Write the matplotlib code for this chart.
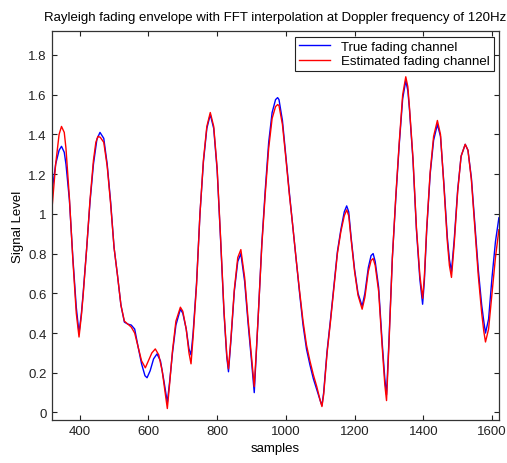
import matplotlib
matplotlib.use("Agg")
from matplotlib import pyplot as plt
from matplotlib.ticker import FormatStrFormatter

# readings from the reference (sample index, envelope value)
true_x = [320, 330, 340, 347, 355, 360, 370, 380, 390, 398, 405, 410, 420, 430, 440, 450, 459,
          470, 480, 490, 500, 510, 520, 530, 540, 550, 560, 570, 580, 590, 596, 605, 615, 625,
          635, 645, 655, 662, 670, 680, 693, 700, 710, 718, 724, 730, 740, 750, 760, 770, 780,
          790, 800, 810, 820, 828, 833, 840, 850, 860, 869, 880, 890, 900, 908, 914, 920, 930,
          940, 950, 960, 970, 976, 980, 990, 1000, 1010, 1020, 1030, 1040, 1050, 1060, 1070,
          1080, 1090, 1100, 1105, 1110, 1120, 1130, 1140, 1150, 1160, 1170, 1177, 1183, 1190,
          1200, 1210, 1222, 1230, 1240, 1248, 1254, 1260, 1270, 1280, 1288, 1293, 1300, 1310,
          1320, 1330, 1340, 1349, 1355, 1360, 1370, 1380, 1390, 1398, 1403, 1410, 1420, 1430,
          1441, 1450, 1460, 1470, 1476, 1482, 1490, 1500, 1510, 1522, 1530, 1540, 1550, 1560,
          1570, 1576, 1581, 1590, 1600, 1610, 1620]
true_y = [1.12, 1.25, 1.32, 1.34, 1.31, 1.25, 1.07, 0.78, 0.53, 0.40, 0.50, 0.60, 0.82, 1.06,
          1.25, 1.375, 1.41, 1.38, 1.25, 1.06, 0.83, 0.69, 0.54, 0.455, 0.445, 0.44, 0.42, 0.33,
          0.245, 0.185, 0.175, 0.21, 0.27, 0.295, 0.26, 0.16, 0.05, 0.16, 0.30, 0.44, 0.52, 0.50,
          0.42, 0.32, 0.29, 0.40, 0.65, 1.00, 1.26, 1.43, 1.50, 1.43, 1.22, 0.87, 0.50, 0.28,
          0.205, 0.36, 0.61, 0.76, 0.80, 0.66, 0.45, 0.26, 0.10, 0.30, 0.50, 0.85, 1.12, 1.36,
          1.51, 1.575, 1.585, 1.575, 1.47, 1.29, 1.11, 0.94, 0.77, 0.60, 0.44, 0.32, 0.24, 0.17,
          0.115, 0.06, 0.035, 0.10, 0.31, 0.47, 0.64, 0.81, 0.92, 1.01, 1.04, 1.01, 0.88, 0.72,
          0.60, 0.535, 0.60, 0.73, 0.79, 0.80, 0.76, 0.63, 0.36, 0.17, 0.09, 0.36, 0.78, 1.08,
          1.35, 1.58, 1.67, 1.62, 1.52, 1.27, 0.92, 0.67, 0.545, 0.66, 0.92, 1.20, 1.37, 1.45,
          1.39, 1.15, 0.88, 0.77, 0.71, 0.87, 1.12, 1.29, 1.35, 1.32, 1.18, 0.95, 0.72, 0.54,
          0.46, 0.40, 0.47, 0.68, 0.86, 0.98]

est_x = [320, 330, 340, 347, 355, 360, 370, 380, 390, 398, 405, 410, 420, 430, 440, 447, 453,
         460, 470, 480, 490, 500, 510, 520, 530, 540, 550, 560, 570, 580, 591, 600, 610, 620,
         630, 640, 648, 655, 662, 670, 680, 693, 700, 710, 718, 724, 730, 740, 750, 760, 770,
         780, 790, 800, 810, 820, 828, 833, 840, 850, 860, 869, 880, 890, 900, 908, 914, 920,
         930, 940, 950, 960, 970, 976, 980, 990, 1000, 1010, 1020, 1030, 1040, 1050, 1060,
         1070, 1080, 1090, 1100, 1105, 1110, 1120, 1130, 1140, 1150, 1160, 1170, 1177, 1183,
         1190, 1200, 1210, 1222, 1230, 1240, 1248, 1254, 1260, 1270, 1280, 1288, 1293, 1300,
         1310, 1320, 1330, 1340, 1349, 1355, 1360, 1370, 1380, 1390, 1398, 1403, 1410, 1420,
         1430, 1441, 1450, 1460, 1470, 1476, 1482, 1490, 1500, 1510, 1522, 1530, 1540, 1550,
         1560, 1570, 1576, 1581, 1590, 1600, 1610, 1620]
est_y = [1.04, 1.25, 1.40, 1.44, 1.41, 1.33, 1.08, 0.77, 0.50, 0.38, 0.49, 0.59, 0.82, 1.07,
         1.27, 1.36, 1.39, 1.385, 1.36, 1.24, 1.05, 0.83, 0.69, 0.54, 0.46, 0.445, 0.43, 0.40,
         0.33, 0.26, 0.225, 0.26, 0.30, 0.32, 0.29, 0.21, 0.11, 0.02, 0.15, 0.31, 0.46, 0.53,
         0.51, 0.42, 0.30, 0.245, 0.38, 0.64, 1.00, 1.27, 1.44, 1.51, 1.44, 1.23, 0.88, 0.51,
         0.29, 0.22, 0.37, 0.62, 0.78, 0.82, 0.68, 0.47, 0.28, 0.13, 0.31, 0.50, 0.84, 1.10,
         1.33, 1.48, 1.54, 1.55, 1.545, 1.45, 1.28, 1.10, 0.94, 0.77, 0.61, 0.46, 0.34, 0.26,
         0.19, 0.13, 0.06, 0.03, 0.09, 0.30, 0.46, 0.63, 0.80, 0.91, 0.99, 1.02, 0.99, 0.87,
         0.71, 0.59, 0.52, 0.58, 0.71, 0.765, 0.775, 0.74, 0.61, 0.34, 0.14, 0.06, 0.34, 0.78,
         1.09, 1.36, 1.60, 1.69, 1.64, 1.53, 1.28, 0.93, 0.69, 0.575, 0.68, 0.93, 1.21, 1.39,
         1.47, 1.40, 1.14, 0.86, 0.74, 0.68, 0.85, 1.11, 1.29, 1.35, 1.32, 1.17, 0.93, 0.69,
         0.50, 0.41, 0.355, 0.42, 0.60, 0.78, 0.92]

xticks = [400, 600, 800, 1000, 1200, 1400, 1600]
yticks = [0, 0.2, 0.4, 0.6, 0.8, 1.0, 1.2, 1.4, 1.6, 1.8]

plt.rcParams['font.family'] = ['Liberation Sans', 'DejaVu Sans']
plt.rcParams['font.size'] = 9.5

fig = plt.figure(figsize=(5.07, 4.64), dpi=100)
ax = fig.add_axes([0.103, 0.093, 0.881, 0.837])

ax.plot(true_x, true_y, color='#0000ff', lw=1.0, label='True fading channel',
        solid_joinstyle='round')
ax.plot(est_x, est_y, color='#ff0000', lw=1.0, label='Estimated fading channel',
        solid_joinstyle='round')

ax.set_xlim(320, 1620)
ax.set_ylim(-0.037, 1.918)
ax.set_xticks(xticks)
ax.set_yticks(yticks)
ax.yaxis.set_major_formatter(FormatStrFormatter('%g'))
ax.tick_params(direction='in', top=True, right=True, length=3.5, width=0.8, colors='#222222',
               pad=4)
for sp in ax.spines.values():
    sp.set_color('#333333')
    sp.set_linewidth(0.9)

ax.set_title('Rayleigh fading envelope with FFT interpolation at Doppler frequency of 120Hz',
             fontsize=9.5, pad=8)
ax.set_xlabel('samples', labelpad=3)
ax.set_ylabel('Signal Level', labelpad=3)

leg = ax.legend(loc='upper right', fancybox=False, framealpha=1, edgecolor='#222222',
                handlelength=2.4, borderpad=0.3, labelspacing=0.15, borderaxespad=0.4)
leg.get_frame().set_linewidth(0.8)

fig.savefig('out.png', dpi=100)
